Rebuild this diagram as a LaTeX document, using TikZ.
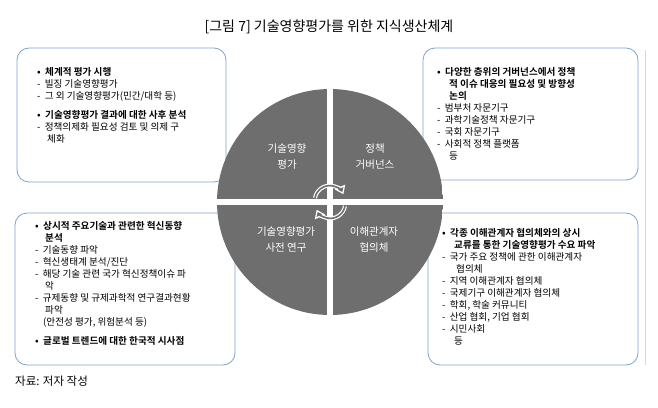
\documentclass[tikz,border=0pt]{standalone}
\usepackage{fontspec}
\setmainfont{Noto Sans CJK KR}
\newfontfamily\kbold{Noto Sans CJK KR Bold}
\usetikzlibrary{arrows.meta}
\definecolor{quadgray}{HTML}{6E6E6E}
\definecolor{boxblue}{HTML}{7FA3CC}
\tikzset{
  box/.style={draw=boxblue, line width=0.8pt, rounded corners=12pt, fill=white},
  txt/.style={anchor=north west, align=left, font=\fontsize{9.6}{12}\selectfont, inner sep=0pt},
  quad/.style={fill=quadgray},
  qlab/.style={text=white, font=\fontsize{10.5}{16}\selectfont, align=center},
  carrowo/.style={draw=white, line width=4pt, -{Triangle[length=8pt,width=11pt]}},
  carrowi/.style={draw=quadgray, line width=1.6pt, shorten >=2.5pt, -{Triangle[length=4pt,width=6pt]}}
}
\begin{document}
\begin{tikzpicture}[x=1pt,y=-1pt]
\useasboundingbox (0,0) rectangle (658,407);
\fill[white] (0,0) rectangle (658,407);
\node (title) at (329,27) {\fontsize{14}{16}\selectfont [그림 7] 기술영향평가를 위한 지식생산체계};
% boxes
\draw[box] (17,48) rectangle (226,182);
\draw[box] (423,48) rectangle (638,180);
\draw[box] (15,213) rectangle (235,365);
\draw[box] (428,213) rectangle (638,365);
\draw[gray!30] (645,50) -- (645,365);
% circle quadrants
\def\R{113}
\coordinate (c) at (330,202);
\begin{scope}
\clip (c) circle (\R);
\fill[quad] (217,89) rectangle (327,199);
\fill[quad] (333,89) rectangle (443,199);
\fill[quad] (217,205) rectangle (327,315);
\fill[quad] (333,205) rectangle (443,315);
\end{scope}
\node[qlab] (q1) at (287,157) {기술영향\\평가};
\node[qlab] (q2) at (375,157) {정책\\거버넌스};
\node[qlab] (q3) at (286,240) {기술영향평가\\사전 연구};
\node[qlab] (q4) at (374,240) {이해관계자\\협의체};
% arrows
\draw[carrowo] (315,198) arc[start angle=-170,end angle=-25,radius=15];
\draw[carrowi] (315,198) arc[start angle=-170,end angle=-25,radius=15];
\draw[carrowo] (345,206) arc[start angle=10,end angle=155,radius=15];
\draw[carrowi] (345,206) arc[start angle=10,end angle=155,radius=15];
% texts
\node[txt] (t1) at (37,67) {{\kbold •\ \ 체계적 평가 시행}\\-\ \ 빌징 기술영향평가\\-\ \ 그 외 기술영향평가(민간/대학 등)\\[7pt]{\kbold •\ \ 기술영향평가 결과에 대한 사후 분석}\\-\ \ 정책의제화 필요성 검토 및 의제 구\\\hspace*{10pt}체화};
\node[txt] (t2) at (437,67) {{\kbold •\ \ 다양한 층위의 거버넌스에서 정책}\\{\kbold \hspace*{12pt}적 이슈 대응의 필요성 및 방향성}\\{\kbold \hspace*{12pt}논의}\\-\ \ 범부처 자문기구\\-\ \ 과학기술정책 자문기구\\-\ \ 국회 자문기구\\-\ \ 사회적 정책 플랫폼\\\hspace*{12pt}등};
\node[txt] (t3) at (35,221) {{\kbold •\ \ 상시적 주요기술과 관련한 혁신동향}\\{\kbold \hspace*{10pt}분석}\\-\ \ 기술동향 파악\\-\ \ 혁신생태계 분석/진단\\-\ \ 해당 기술 관련 국가 혁신정책이슈 파\\\hspace*{10pt}악\\-\ \ 규제동향 및 규제과학적 연구결과현황\\\hspace*{10pt}파악\\\hspace*{8pt}(안전성 평가, 위험분석 등)\\[7pt]{\kbold •\ \ 글로벌 트렌드에 대한 한국적 시사점}};
\node[txt] (t4) at (442,228) {{\kbold •\ \ 각종 이해관계자 협의체와의 상시}\\{\kbold \hspace*{12pt}교류를 통한 기술영향평가 수요 파악}\\-\ \ 국가 주요 정책에 관한 이해관계자\\\hspace*{14pt}협의체\\-\ \ 지역 이해관계자 협의체\\-\ \ 국제기구 이해관계자 협의체\\-\ \ 학회, 학술 커뮤니티\\-\ \ 산업 협회, 기업 협회\\-\ \ 시민사회\\\hspace*{12pt}등};
\node[anchor=west, inner sep=0pt] (src) at (15,381) {\fontsize{11.5}{13}\selectfont 자료: 저자 작성};
\end{tikzpicture}
\end{document}
